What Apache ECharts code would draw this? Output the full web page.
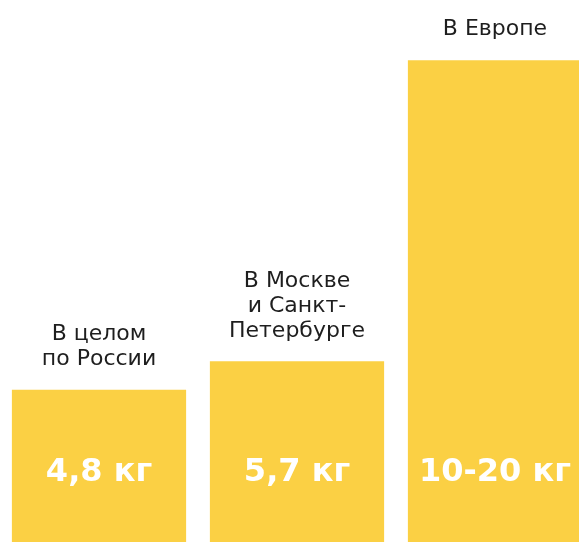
<!DOCTYPE html>
<html>
<head>
<meta charset="utf-8">
<script src="https://cdn.jsdelivr.net/npm/echarts@6/dist/echarts.min.js"></script>
<style>
  html, body { margin: 0; padding: 0; background: #fff; }
  #chart { width: 579px; height: 542px; }
</style>
</head>
<body>
<div id="chart"></div>
<script>
// подписи над столбцами
const categories = ['В целом\nпо России', 'В Москве\nи Санкт-\nПетербурге', 'В Европе']
// высота столбцов (для 10-20 кг нарисовано примерно 15)
const values = [4.8, 5.7, 15.2]
// подписи внутри столбцов
const valueLabels = ['4,8 кг', '5,7 кг', '10-20 кг']
const valueLabelLevel = 2.18

const chart = echarts.init(document.getElementById('chart'))
const option = {
  animation: false,
  grid: { left: 0, top: 0, bottom: 0, right: -15, outerBoundsMode: 'none', containLabel: false },
  xAxis: {
    type: 'category',
    data: categories,
    show: false
  },
  yAxis: {
    type: 'value',
    min: 0,
    max: 17.1,
    show: false
  },
  series: [
    {
      type: 'bar',
      data: values,
      barWidth: '88%',
      itemStyle: { color: '#FBD044' },
      label: {
        show: true,
        position: 'top',
        distance: 18,
        formatter: p => categories[p.dataIndex],
        color: '#1e1e1e',
        fontFamily: 'DejaVu Sans',
        fontSize: 22,
        lineHeight: 25,
        align: 'center'
      }
    },
    {
      type: 'scatter',
      data: valueLabels.map((v, i) => [i, valueLabelLevel]),
      symbolSize: 1,
      itemStyle: { color: 'rgba(0,0,0,0)', opacity: 1 },
      label: {
        show: true,
        position: 'inside',
        formatter: p => valueLabels[p.dataIndex],
        color: '#ffffff',
        fontFamily: 'DejaVu Sans',
        fontWeight: 'bold',
        fontSize: 32
      }
    }
  ]
}
chart.setOption(option)
</script>
</body>
</html>
